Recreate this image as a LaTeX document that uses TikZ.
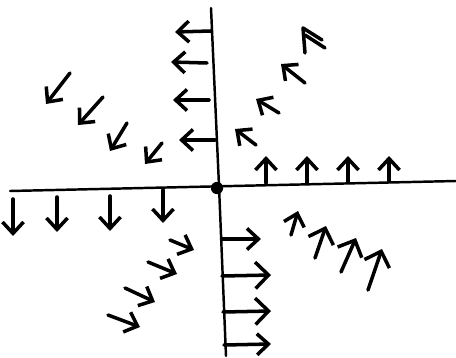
\documentclass[tikz,border=0pt]{standalone}
\usetikzlibrary{arrows.meta}
\begin{document}
\begin{tikzpicture}[x=0.02cm,y=-0.02cm,
  axis/.style={line width=1.4pt,line cap=round},
  stroke/.style={line width=2pt,line cap=round,line join=round},
  vec/.style={stroke,
    -{Straight Barb[length=6.5pt,width=12pt,line width=2pt]}},
  bigvec/.style={stroke,
    -{Straight Barb[length=7.5pt,width=15pt,line width=2pt]}}]
\useasboundingbox (0,0) rectangle (456,358);
% axes
\draw[axis] (10,191) -- (456,181);
\draw[axis] (211,8) -- (219,186) -- (226,356);
\fill (217,188) circle[radius=3.5pt];
% upper left: left arrows
\draw[vec] (211,31) -- (175,32);
\draw[vec] (207,63) -- (171,62);
\draw[vec] (209,100) -- (173,100);
\draw[vec] (215,140) -- (179,140);
% upper left: SW arrows
\draw[vec] (70,73) -- (46,104);
\draw[vec] (103,97) -- (78,125);
\draw[vec] (127,123) -- (110,151);
\draw[vec] (162,143) -- (145,164);
% upper right: up arrows
\draw[vec] (266,183) -- (266,156);
\draw[vec] (307,183) -- (307,156);
\draw[vec] (348,182) -- (348,156);
\draw[vec] (389,181) -- (389,156);
% upper right: NW arrows
\draw[vec] (256,145) -- (235,129);
\draw[vec] (279,113) -- (256,99);
\draw[vec] (305,83) -- (281,64);
\coordinate (h) at (303,28);
\draw[stroke] (h) -- (305,53);
\draw[stroke] (h) -- (322,40);
\draw[stroke] (305,35) -- (325,48);
% lower left: down arrows
\draw[vec] (13,199) -- (13,236);
\draw[vec] (57,197) -- (57,232);
\draw[vec] (110,196) -- (110,231);
\draw[vec] (163,190) -- (163,223);
% lower left: SE arrows
\draw[vec] (170,240) -- (194,250);
\draw[vec] (148,262) -- (177,274);
\draw[vec] (125,288) -- (155,302);
\draw[vec] (108,315) -- (140,327);
% lower right: right arrows
\draw[vec] (222,239) -- (261,239);
\draw[bigvec] (222,276) -- (271,275);
\draw[bigvec] (223,312) -- (271,311);
\draw[vec] (224,345) -- (271,344);
% lower right: up arrows
\draw[vec] (291,235) -- (298,211);
\draw[bigvec] (315,258) -- (326,226);
\draw[bigvec] (341,272) -- (356,238);
\draw[bigvec] (368,290) -- (382,249);
\end{tikzpicture}
\end{document}
